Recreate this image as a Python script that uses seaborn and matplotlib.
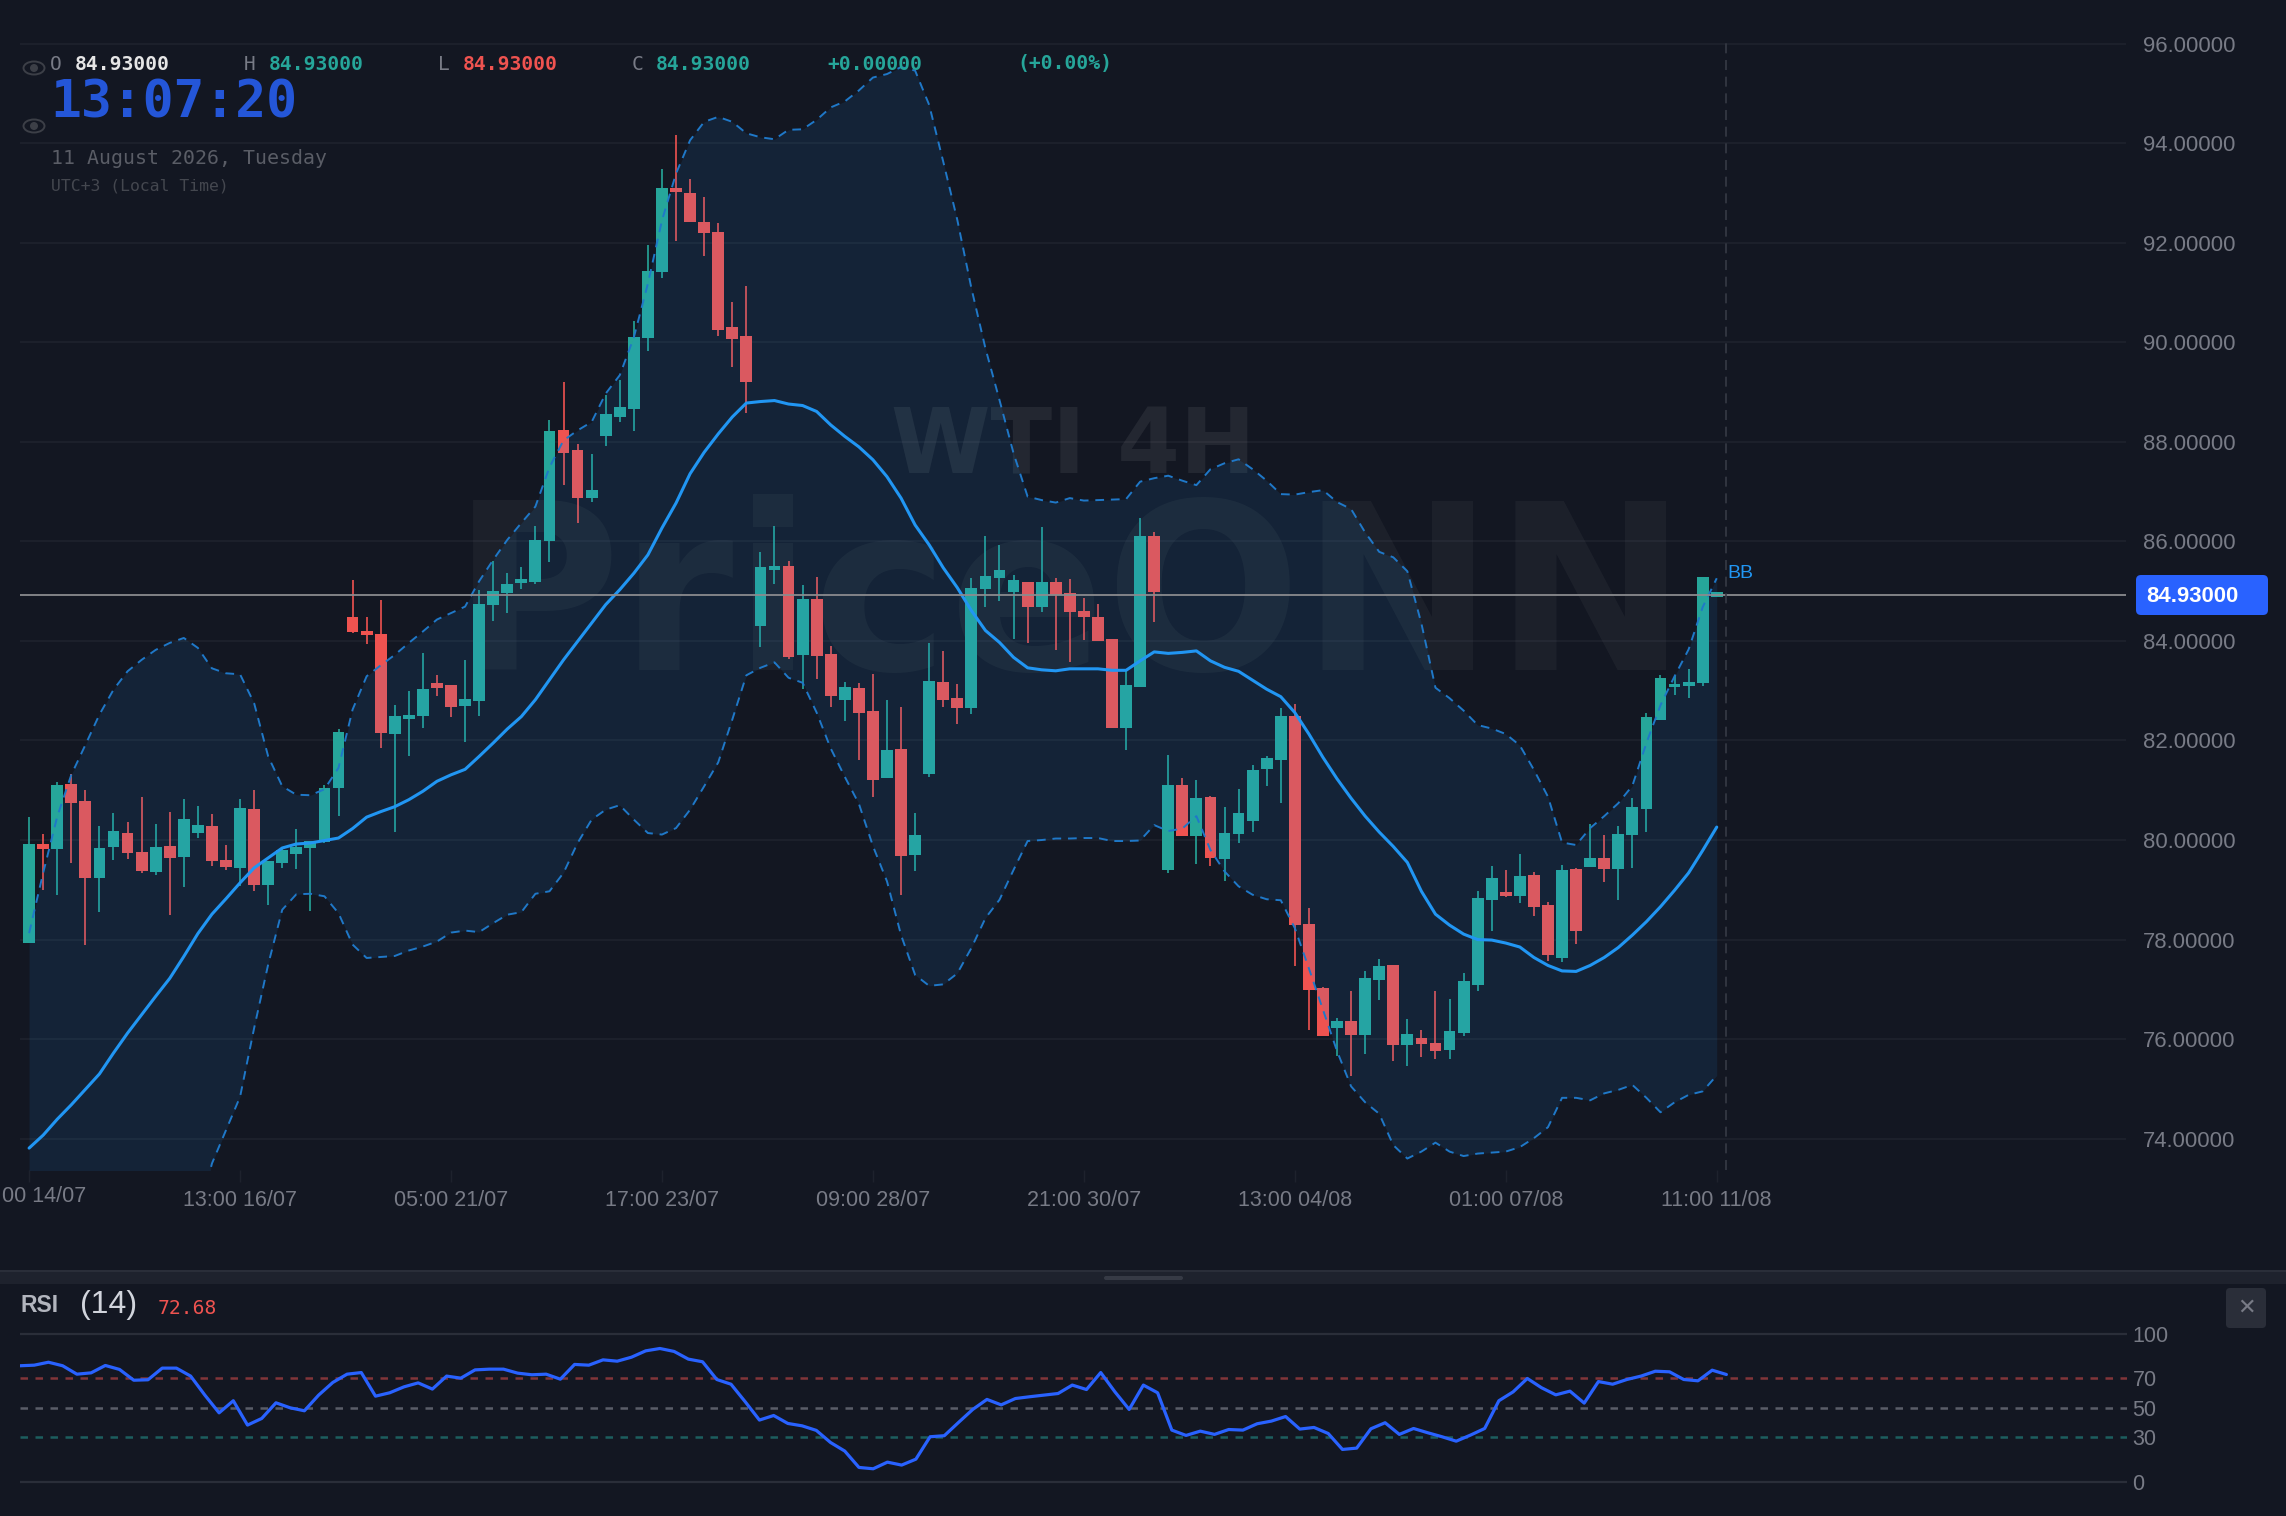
"""
WTI 4H candlestick chart with Bollinger bands and an RSI pane (dark terminal look).
"""

import matplotlib

matplotlib.use("Agg")
import matplotlib.pyplot as plt
import numpy as np
import seaborn as sns
from matplotlib.patches import Ellipse, FancyBboxPatch, Rectangle

W, H = 2286, 1516
BG = "#131722"
GRID = "#1e222d"
MUTED = "#787b86"
GREEN = "#26a69a"
RED = "#ef5350"
BLUE = "#2196f3"
MONO = "DejaVu Sans Mono"
SANS = "Liberation Sans"

opens = [
    77.94, 79.92, 79.82, 81.13, 80.79, 79.23, 79.85, 80.15, 79.76, 79.36,
    79.88, 79.65, 80.15, 80.29, 79.60, 79.44, 80.63, 79.10, 79.53, 79.72,
    79.83, 79.97, 81.04, 84.48, 84.20, 84.14, 82.13, 82.44, 82.50, 83.15,
    83.11, 82.70, 82.80, 84.72, 84.97, 85.16, 85.19, 86.00, 88.23, 87.83,
    86.87, 88.12, 88.50, 88.66, 90.09, 91.41, 93.11, 93.01, 92.41, 92.22,
    90.30, 90.13, 84.31, 85.43, 85.50, 83.72, 84.84, 83.74, 82.82, 83.06,
    82.60, 81.25, 81.82, 79.70, 81.33, 83.18, 82.85, 82.66, 85.04, 85.27,
    84.98, 85.19, 84.68, 85.19, 84.96, 84.61, 84.49, 84.03, 82.25, 83.08,
    86.11, 79.40, 81.10, 80.08, 80.86, 79.62, 80.12, 80.39, 81.43, 81.61,
    82.50, 78.31, 77.02, 76.22, 76.36, 76.08, 77.18, 77.49, 75.88, 76.02,
    75.92, 75.78, 76.13, 77.09, 78.79, 78.95, 78.87, 79.30, 78.70, 77.62,
    79.42, 79.45, 79.64, 79.42, 80.10, 80.62, 82.42, 83.07, 83.10, 83.15,
    84.93,
]
highs = [
    80.46, 80.12, 81.16, 81.32, 81.01, 80.29, 80.55, 80.37, 80.86, 80.33,
    80.57, 80.82, 80.69, 80.52, 79.90, 80.82, 81.00, 79.58, 79.82, 80.23,
    79.98, 81.10, 82.23, 85.22, 84.48, 84.82, 82.72, 82.99, 83.76, 83.31,
    83.12, 83.62, 85.02, 85.61, 85.36, 85.48, 86.31, 88.44, 89.20, 87.95,
    87.75, 88.95, 89.24, 90.42, 91.96, 93.49, 94.17, 93.29, 92.91, 92.39,
    90.82, 91.14, 85.78, 86.31, 85.60, 85.12, 85.29, 83.90, 83.17, 83.16,
    83.33, 82.81, 82.68, 80.55, 83.96, 83.80, 83.14, 85.27, 86.11, 85.93,
    85.33, 85.19, 86.29, 85.27, 85.24, 84.87, 84.74, 84.03, 83.39, 86.47,
    86.19, 81.71, 81.25, 81.21, 80.89, 80.67, 81.02, 81.51, 81.69, 82.65,
    82.73, 78.63, 77.05, 76.43, 76.97, 77.37, 77.60, 77.49, 76.40, 76.19,
    76.97, 76.80, 77.33, 78.98, 79.48, 79.39, 79.71, 79.35, 78.76, 79.49,
    79.44, 80.33, 80.11, 80.29, 80.84, 82.56, 83.32, 83.29, 83.43, 85.29,
    84.93,
]
lows = [
    77.94, 78.99, 78.89, 79.54, 77.90, 78.56, 79.60, 79.62, 79.34, 79.30,
    78.50, 79.05, 80.04, 79.48, 79.40, 79.07, 78.97, 78.69, 79.44, 79.42,
    78.58, 79.94, 80.49, 84.16, 83.94, 81.85, 80.17, 81.69, 82.26, 82.89,
    82.48, 81.96, 82.50, 84.41, 84.56, 85.04, 85.14, 85.58, 87.13, 86.36,
    86.79, 87.92, 88.40, 88.22, 89.83, 91.29, 92.04, 92.41, 91.73, 90.13,
    89.50, 88.57, 83.88, 85.14, 83.64, 83.03, 83.24, 82.67, 82.40, 81.61,
    80.87, 81.25, 78.89, 79.38, 81.26, 82.67, 82.34, 82.53, 84.68, 84.80,
    84.03, 83.95, 84.58, 83.82, 83.57, 84.02, 83.99, 82.26, 81.80, 83.08,
    84.38, 79.34, 80.09, 79.52, 79.48, 79.17, 79.94, 80.16, 81.09, 80.75,
    77.46, 76.18, 76.07, 75.66, 75.26, 75.71, 76.79, 75.56, 75.46, 75.64,
    75.61, 75.61, 76.07, 76.97, 78.18, 78.85, 78.74, 78.48, 77.57, 77.54,
    77.91, 79.45, 79.16, 78.80, 79.44, 80.17, 82.42, 82.91, 82.86, 83.09,
    84.93,
]
closes = [
    79.92, 79.82, 81.11, 80.74, 79.24, 79.84, 80.19, 79.73, 79.37, 79.86,
    79.64, 80.43, 80.31, 79.58, 79.45, 80.65, 79.10, 79.58, 79.79, 79.85,
    79.98, 81.04, 82.17, 84.18, 84.12, 82.15, 82.50, 82.52, 83.03, 83.06,
    82.68, 82.83, 84.75, 85.01, 85.14, 85.24, 86.03, 88.22, 87.78, 86.87,
    87.04, 88.55, 88.70, 90.10, 91.44, 93.11, 93.02, 92.41, 92.20, 90.25,
    90.06, 89.21, 85.48, 85.50, 83.67, 84.84, 83.70, 82.89, 83.07, 82.56,
    81.21, 81.81, 79.68, 80.10, 83.20, 82.82, 82.66, 85.07, 85.31, 85.42,
    85.23, 84.68, 85.18, 84.93, 84.59, 84.48, 83.99, 82.26, 83.11, 86.11,
    84.99, 81.10, 80.09, 80.85, 79.64, 80.14, 80.55, 81.41, 81.65, 82.50,
    78.30, 76.99, 76.07, 76.36, 76.08, 77.22, 77.47, 75.89, 76.10, 75.90,
    75.77, 76.17, 77.17, 78.83, 79.24, 78.87, 79.28, 78.65, 77.69, 79.40,
    78.18, 79.64, 79.41, 80.13, 80.66, 82.48, 83.25, 83.14, 83.18, 85.29,
    84.93,
]
bb_middle = [
    73.81, 74.07, 74.39, 74.68, 74.99, 75.30, 75.72, 76.12, 76.49, 76.86,
    77.22, 77.66, 78.12, 78.51, 78.82, 79.14, 79.44, 79.64, 79.84, 79.92,
    79.94, 79.99, 80.04, 80.23, 80.46, 80.57, 80.67, 80.81, 80.98, 81.18,
    81.31, 81.42, 81.68, 81.95, 82.23, 82.48, 82.82, 83.22, 83.62, 83.99,
    84.36, 84.73, 85.03, 85.36, 85.73, 86.27, 86.77, 87.36, 87.79, 88.16,
    88.50, 88.78, 88.81, 88.83, 88.76, 88.73, 88.61, 88.34, 88.11, 87.90,
    87.64, 87.30, 86.87, 86.33, 85.93, 85.47, 85.07, 84.61, 84.21, 83.97,
    83.67, 83.46, 83.42, 83.40, 83.44, 83.44, 83.44, 83.41, 83.41, 83.60,
    83.78, 83.75, 83.77, 83.80, 83.60, 83.47, 83.39, 83.21, 83.03, 82.88,
    82.56, 82.13, 81.66, 81.23, 80.84, 80.48, 80.16, 79.87, 79.55, 78.97,
    78.51, 78.29, 78.11, 78.00, 77.99, 77.93, 77.85, 77.64, 77.48, 77.37,
    77.36, 77.48, 77.64, 77.84, 78.09, 78.36, 78.66, 78.99, 79.34, 79.79,
    80.26,
]
bb_upper = [
    78.13, 79.34, 80.47, 81.31, 81.91, 82.52, 83.02, 83.39, 83.62, 83.82,
    83.96, 84.06, 83.86, 83.45, 83.35, 83.33, 82.75, 81.68, 81.08, 80.91,
    80.90, 81.02, 81.45, 82.62, 83.29, 83.51, 83.72, 83.96, 84.19, 84.43,
    84.56, 84.69, 85.20, 85.63, 86.03, 86.37, 86.70, 87.49, 88.03, 88.23,
    88.40, 88.97, 89.34, 90.10, 91.18, 92.45, 93.39, 94.06, 94.43, 94.53,
    94.43, 94.20, 94.12, 94.08, 94.27, 94.28, 94.47, 94.72, 94.84, 95.06,
    95.32, 95.39, 95.53, 95.46, 94.77, 93.63, 92.46, 91.09, 89.88, 88.84,
    87.77, 86.90, 86.83, 86.78, 86.87, 86.82, 86.83, 86.84, 86.85, 87.20,
    87.27, 87.32, 87.22, 87.13, 87.45, 87.57, 87.65, 87.45, 87.22, 86.95,
    86.94, 86.99, 87.03, 86.79, 86.65, 86.18, 85.79, 85.68, 85.40, 84.35,
    83.06, 82.85, 82.60, 82.31, 82.24, 82.13, 81.90, 81.41, 80.87, 79.95,
    79.90, 80.24, 80.48, 80.74, 81.09, 81.95, 82.71, 83.29, 83.83, 84.68,
    85.26,
]
bb_lower = [
    69.49, 68.80, 68.31, 68.05, 68.07, 68.08, 68.42, 68.85, 69.36, 69.90,
    70.48, 71.26, 72.38, 73.50, 74.17, 74.84, 76.22, 77.50, 78.60, 78.91,
    78.92, 78.87, 78.53, 77.90, 77.63, 77.65, 77.67, 77.78, 77.86, 77.96,
    78.14, 78.18, 78.15, 78.33, 78.50, 78.55, 78.92, 78.97, 79.34, 79.94,
    80.41, 80.61, 80.70, 80.41, 80.14, 80.11, 80.24, 80.61, 81.08, 81.56,
    82.42, 83.31, 83.46, 83.57, 83.26, 83.16, 82.56, 81.84, 81.27, 80.73,
    79.88, 79.17, 78.09, 77.29, 77.07, 77.10, 77.32, 77.83, 78.43, 78.80,
    79.40, 79.98, 80.00, 80.03, 80.03, 80.04, 80.04, 79.98, 79.98, 79.99,
    80.30, 80.18, 80.23, 80.48, 79.80, 79.37, 79.07, 78.90, 78.81, 78.79,
    78.23, 77.42, 76.59, 75.76, 75.05, 74.73, 74.50, 73.87, 73.60, 73.74,
    73.92, 73.74, 73.65, 73.70, 73.72, 73.74, 73.83, 74.01, 74.23, 74.82,
    74.82, 74.77, 74.91, 74.98, 75.08, 74.82, 74.53, 74.73, 74.88, 74.95,
    75.27,
]
rsi_values = [
    78.6, 79.0, 81.0, 78.6, 72.9, 73.8, 78.8, 76.1, 68.8, 69.1,
    77.0, 77.0, 71.6, 58.7, 46.7, 54.9, 38.4, 42.9, 53.5, 50.1,
    48.1, 58.7, 67.3, 72.9, 74.0, 58.0, 60.3, 64.3, 67.0, 62.8,
    71.6, 70.2, 75.8, 76.3, 76.3, 73.6, 72.5, 72.9, 69.5, 79.5,
    79.0, 82.6, 81.7, 84.4, 88.7, 90.3, 88.3, 83.1, 81.3, 69.3,
    66.1, 54.2, 41.8, 44.9, 39.5, 37.9, 34.8, 26.6, 20.8, 9.7,
    8.8, 13.3, 11.3, 15.3, 30.5, 31.2, 40.2, 49.0, 55.8, 52.1,
    56.4, 57.6, 58.7, 59.8, 65.5, 62.5, 74.0, 60.9, 49.0, 65.5,
    60.3, 35.0, 31.4, 34.3, 32.1, 35.4, 35.0, 39.3, 41.1, 44.2,
    35.7, 36.8, 32.7, 21.9, 22.8, 35.9, 40.0, 32.1, 36.1, 33.2,
    30.5, 27.5, 31.6, 36.1, 54.9, 60.9, 70.0, 63.7, 58.9, 61.4,
    53.3, 67.9, 66.1, 69.3, 71.6, 74.9, 74.5, 69.3, 68.4, 75.6,
    72.68,
]
price_ticks = [96, 94, 92, 90, 88, 86, 84, 82, 80, 78, 76, 74]
rsi_ticks = [100, 70, 50, 30, 0]
time_tick_pos = [0, 15, 30, 45, 60, 75, 90, 105, 120]
time_tick_labels = [
    "", "13:00 16/07", "05:00 21/07", "17:00 23/07", "09:00 28/07",
    "21:00 30/07", "13:00 04/08", "01:00 07/08", "11:00 11/08",
]
first_time_label = "00 14/07"
last_price = 84.93


def pane(fig, left, top, right, bottom):
    return fig.add_axes([left / W, 1 - bottom / H, (right - left) / W, (bottom - top) / H])


sns.set_theme(style="dark", rc={"axes.facecolor": BG, "figure.facecolor": BG})
plt.rcParams["font.family"] = [SANS, "DejaVu Sans"]

fig = plt.figure(figsize=(W / 100, H / 100), dpi=100)

# price pane, 14.06 px per candle and 49.77 px per dollar
ax = pane(fig, 20, 0, 2126, 1170)
ax.set_xlim(-0.647, 149.1)
ax.set_ylim(73.37, 96.878)
for spine in ax.spines.values():
    spine.set_visible(False)

ax.hlines(price_ticks, -0.647, 149.1, color=GRID, linewidth=1.2, zorder=1)

ax.text(452 / W, 1 - 670 / H, "PriceONN", transform=fig.transFigure, fontsize=166, color="#ffffff",
        alpha=0.04, family="DejaVu Sans", fontweight="bold", zorder=1.5)
ax.text(891 / W, 1 - 473 / H, "WTI 4H", transform=fig.transFigure, fontsize=65, color="#ffffff",
        alpha=0.07, family="DejaVu Sans", fontweight="bold", zorder=1.5)

# candles sit under the band fill
x = np.arange(len(opens))
o, h, l, c = map(np.array, (opens, highs, lows, closes))
colors = [GREEN if ci >= oi else RED for oi, ci in zip(o, c)]
body = np.where(o == c, 0.11, np.abs(c - o))
bottoms = np.where(o == c, o - 0.055, np.minimum(o, c))
ax.vlines(x, l, h, colors=colors, linewidth=1.2, zorder=2)
ax.bar(x, body, bottom=bottoms, width=0.84, color=colors, linewidth=0, zorder=2.5)

ax.fill_between(x, bb_lower, bb_upper, color=BLUE, alpha=0.1, linewidth=0, zorder=3)
band_dash = (0, (4.5, 3.5))
for band in (bb_upper, bb_lower):
    sns.lineplot(x=x, y=band, ax=ax, color="#1f78c8", linewidth=1.4, linestyle=band_dash,
                 estimator=None, sort=False, legend=False, zorder=4)
sns.lineplot(x=x, y=bb_middle, ax=ax, color=BLUE, linewidth=2.2, estimator=None, sort=False,
             legend=False, zorder=4.5)

ax.hlines(last_price, -0.647, 149.1, color="#8a8b8e", linewidth=1.3, zorder=5)
ax.vlines((1726 - 29.1) / 14.06, 73.37, 96.05, color="#363a45", linewidth=1.2,
          linestyle=(0, (6, 4)), zorder=5)

ax.set_xticks(time_tick_pos)
ax.set_xticklabels(time_tick_labels)
ax.set_yticks(price_ticks)
ax.set_yticklabels([f"{v:.5f}" for v in price_ticks])
ax.yaxis.tick_right()
ax.set_xlabel("")
ax.set_ylabel("")
ax.tick_params(axis="y", length=0, pad=12.5, labelsize=15.9, labelcolor=MUTED)
ax.tick_params(axis="x", length=8.6, width=1, color=GRID, pad=5.8, labelsize=15.5, labelcolor=MUTED,
               bottom=True)

# RSI pane, its points run from the pane's left edge up to the crosshair
rsi_ax = pane(fig, 20, 1284, 2127, 1516)
rsi_ax.set_xlim(0, 2107 / 14.22)
rsi_ax.set_ylim(-23.2, 134)
for spine in rsi_ax.spines.values():
    spine.set_visible(False)
rsi_ax.hlines([100, 0], 0, 2107 / 14.22, color="#2a2e39", linewidth=1.6, zorder=1)
rsi_dash = (0, (3, 3))
rsi_ax.hlines(70, 0, 2107 / 14.22, color=RED, alpha=0.5, linewidth=1.8, linestyle=rsi_dash, zorder=1)
rsi_ax.hlines(50, 0, 2107 / 14.22, color=MUTED, alpha=0.7, linewidth=1.8, linestyle=rsi_dash, zorder=1)
rsi_ax.hlines(30, 0, 2107 / 14.22, color=GREEN, alpha=0.5, linewidth=1.8, linestyle=rsi_dash, zorder=1)
sns.lineplot(x=np.arange(len(rsi_values)), y=rsi_values, ax=rsi_ax, color="#2962ff", linewidth=2.3,
             estimator=None, sort=False, legend=False, zorder=3)
rsi_ax.set_xticks([])
rsi_ax.set_yticks(rsi_ticks)
rsi_ax.set_yticklabels([str(v) for v in rsi_ticks])
rsi_ax.yaxis.tick_right()
rsi_ax.set_xlabel("")
rsi_ax.set_ylabel("")
rsi_ax.tick_params(axis="y", length=0, pad=4, labelsize=15.5, labelcolor=MUTED)

# header, price tag and other chrome, placed in pixels
top = fig.add_axes([0, 0, 1, 1], zorder=10)
top.set_xlim(0, W)
top.set_ylim(H, 0)
top.axis("off")

top.text(2, 1197, first_time_label, color=MUTED, fontsize=15.5, va="center")

top.add_patch(Rectangle((0, 1270), W, 2, color="#2a2e39", linewidth=0))
top.add_patch(Rectangle((0, 1272), W, 12, color="#1e222d", linewidth=0))
top.add_patch(FancyBboxPatch((1104, 1276), 79, 4, boxstyle="round,pad=0,rounding_size=2",
                             color="#363a45", linewidth=0))
top.add_patch(FancyBboxPatch((2226, 1288), 40, 40, boxstyle="round,pad=0,rounding_size=4",
                             color="#2a2e39", linewidth=0))
top.text(2246, 1308, "✕", color=MUTED, fontsize=16, ha="center", va="center", family="DejaVu Sans")

top.add_patch(FancyBboxPatch((2136, 575), 132, 40, boxstyle="round,pad=0,rounding_size=5",
                             color="#2962ff", linewidth=0))
top.text(2146, 596, "84.93000", color="#ffffff", fontsize=15.9, fontweight="bold", va="center")
top.text(1727, 574, "BB", color=BLUE, fontsize=14, va="center")

for eye_y in (68, 126):
    top.add_patch(Ellipse((34, eye_y), 21, 13, fill=False, edgecolor="#3c3f47", linewidth=1.4))
    top.add_patch(Ellipse((34, eye_y), 8, 8, color="#3c3f47", linewidth=0))

header = [
    (50, "O", MUTED, "normal"), (75, "84.93000", "#e6e6e6", "bold"),
    (244, "H", MUTED, "normal"), (269, "84.93000", GREEN, "bold"),
    (438, "L", MUTED, "normal"), (463, "84.93000", RED, "bold"),
    (632, "C", MUTED, "normal"), (656, "84.93000", GREEN, "bold"),
    (827, "+0.00000", GREEN, "bold"), (1017, "(+0.00%)", GREEN, "bold"),
]
for hx, text, color, weight in header:
    top.text(hx, 64, text, color=color, fontsize=14.1, family=MONO, fontweight=weight, va="center")

top.text(50, 103, "13:07:20", color="#2456d8", fontsize=37, family=MONO, fontweight="bold", va="center")
top.text(51, 158, "11 August 2026, Tuesday", color="#5a5d66", fontsize=14.3, family=MONO, va="center")
top.text(51, 186, "UTC+3 (Local Time)", color="#44474f", fontsize=11.8, family=MONO, va="center")

top.text(20, 1306, "RSI", color="#b2b5be", fontsize=16.5, fontweight="bold", va="center")
top.text(80, 1305, "(14)", color="#d1d4dc", fontsize=23, va="center")
top.text(158, 1308, "72.68", color=RED, fontsize=14.1, family=MONO, va="center")

fig.savefig("out.png", dpi=100, facecolor=BG)
plt.close(fig)
